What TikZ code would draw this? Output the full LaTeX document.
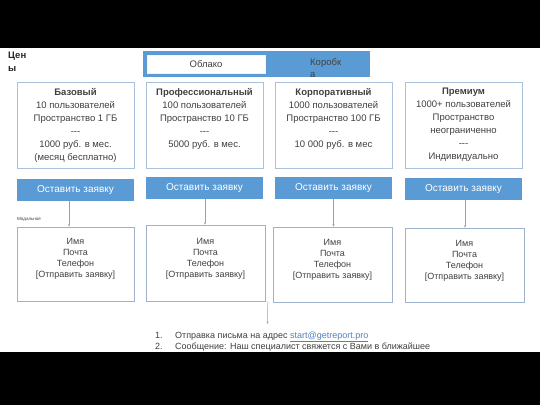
\documentclass[tikz,border=0pt]{standalone}
\usepackage{fontspec}
\setmainfont{Liberation Sans}
\usetikzlibrary{arrows.meta}
\definecolor{btnblue}{HTML}{5B9BD5}
\definecolor{boxline}{HTML}{A9C1DD}
\definecolor{formline}{HTML}{9DB2CC}
\definecolor{txt}{HTML}{404040}
\definecolor{arrowc}{HTML}{8CA3C0}
\definecolor{linkc}{HTML}{4F81BD}
\newcommand{\tridash}{-{}-{}-}
\begin{document}
\begin{tikzpicture}[x=1pt,y=-1pt,
 planbox/.style={draw=boxline, line width=0.8pt, fill=white, minimum width=117pt, minimum height=86pt, inner sep=0},
 plantext/.style={anchor=north, align=center, text=txt, font=\fontsize{9.5}{13}\selectfont, inner sep=0},
 btnbox/.style={fill=btnblue, text=white, minimum width=117pt, minimum height=22pt, inner sep=0, font=\fontsize{10}{12}\selectfont},
 formbox/.style={draw=formline, line width=0.6pt, fill=white, minimum width=117pt, minimum height=74pt, inner sep=0},
 formtext/.style={anchor=north, align=center, text=txt, font=\fontsize{9}{11}\selectfont, inner sep=0},
 conn/.style={draw=arrowc, line width=0.5pt, -{Stealth[length=2.5pt,width=2pt]}},
 listtext/.style={anchor=base west, text=txt, font=\fontsize{9}{11}\selectfont, inner sep=0}
]
\useasboundingbox (0,0) rectangle (540,405);
\fill[black] (0,0) rectangle (540,405);
\fill[white] (0,48) rectangle (540,352);

% title
\node[anchor=north west, align=left, text=black!85, font=\bfseries\fontsize{9.5}{12.5}\selectfont, inner sep=0] (title) at (8,52) {Цен\\ы};

% tab bar
\node[fill=btnblue, minimum width=227pt, minimum height=26pt, inner sep=0] (tabbar) at (256.5,64) {};
\node[fill=white, draw=white!90!btnblue, line width=0.4pt, minimum width=118pt, minimum height=18pt, inner sep=0, text=txt, font=\fontsize{9.5}{12}\selectfont] (cloud) at (206,64) {Облако};
\node[anchor=north west, align=left, text=txt, font=\fontsize{9.5}{12}\selectfont, inner sep=0] (boxtab) at (310,58.5) {Коробк\\а};

% plan boxes
\node[planbox] (b1) at (75.5,125) {};
\node[planbox] (b2) at (204.5,125) {};
\node[planbox] (b3) at (333.5,125) {};
\node[planbox] (b4) at (463.5,125) {};
\node[plantext] (t1) at (75.5,88) {\textbf{Базовый}\\10 пользователей\\Пространство 1 ГБ\\\tridash\\1000 руб. в мес.\\(месяц бесплатно)};
\node[plantext] (t2) at (204.5,88) {\textbf{Профессиональный}\\100 пользователей\\Пространство 10 ГБ\\\tridash\\5000 руб. в мес.};
\node[plantext] (t3) at (333.5,88) {\textbf{Корпоративный}\\1000 пользователей\\Пространство 100 ГБ\\\tridash\\10 000 руб. в мес};
\node[plantext] (t4) at (463.5,88) {\textbf{Премиум}\\1000+ пользователей\\Пространство\\неограниченно\\\tridash\\Индивидуально};

% buttons
\node[btnbox] (btn1) at (75.5,190) {Оставить заявку};
\node[btnbox] (btn2) at (204.5,188) {Оставить заявку};
\node[btnbox] (btn3) at (333.5,188) {Оставить заявку};
\node[btnbox] (btn4) at (463.5,189) {Оставить заявку};

\node[anchor=base west, text=txt, font=\fontsize{4.5}{5}\selectfont, inner sep=0] (modal) at (17,220) {Модальное};

% forms
\node[formbox] (f1) at (75.5,264) {};
\node[formbox, minimum width=119pt, minimum height=76pt] (f2) at (205.5,263) {};
\node[formbox, minimum width=119pt, minimum height=75pt] (f3) at (332.5,264.5) {};
\node[formbox, minimum width=119pt, minimum height=74pt] (f4) at (464.5,265) {};
\node[formtext] (ft1) at (75.5,238) {Имя\\Почта\\Телефон\\{[}Отправить заявку{]}};
\node[formtext] (ft2) at (205.5,238) {Имя\\Почта\\Телефон\\{[}Отправить заявку{]}};
\node[formtext] (ft3) at (332.5,239) {Имя\\Почта\\Телефон\\{[}Отправить заявку{]}};
\node[formtext] (ft4) at (464.5,240) {Имя\\Почта\\Телефон\\{[}Отправить заявку{]}};

% connectors
\draw[conn] ([xshift=-6.5pt]btn1.south) -- ([xshift=-6.5pt]f1.north);
\draw[conn] ([xshift=0.5pt]btn2.south) -- ([xshift=-0.5pt]f2.north);
\draw[conn] (btn3.south) -- ([xshift=1pt]f3.north);
\draw[conn] ([xshift=1.5pt]btn4.south) -- ([xshift=0.5pt]f4.north);
\coordinate (mailend) at (267.5,324);
\draw[conn] ([xshift=2.5pt]f2.south east) -- (mailend);

% list
\node[listtext] (n1) at (155,338) {1.};
\node[listtext] (l1) at (175,338) {Отправка письма на адрес \textcolor{linkc}{\underline{start@getreport.pro}}};
\node[listtext] (n2) at (155,349.5) {2.};
\node[listtext] (l2) at (175,349.5) {Сообщение: Наш специалист свяжется с Вами в ближайшее};
\end{tikzpicture}
\end{document}
